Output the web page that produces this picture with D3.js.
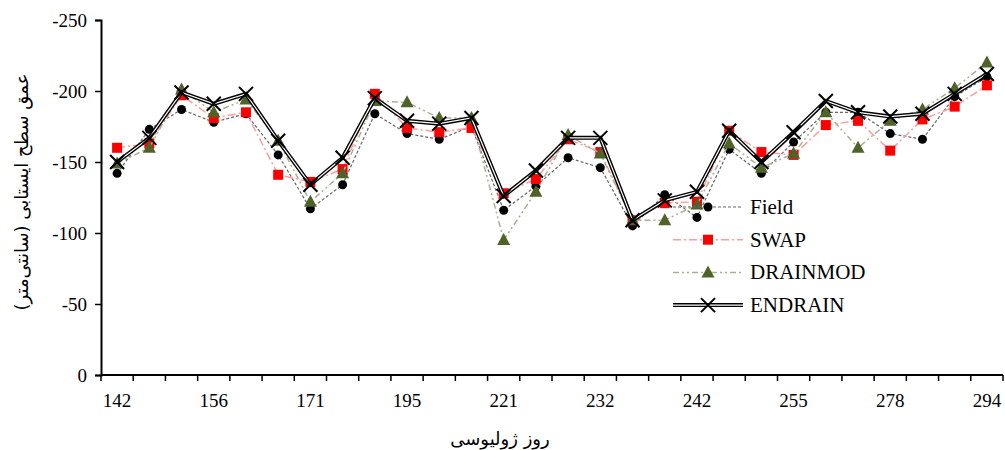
<!DOCTYPE html>
<html>
<head>
<meta charset="utf-8">
<script src="https://cdn.jsdelivr.net/npm/d3@7"></script>
<style>
  body { margin: 0; background: #fff; }
  text { font-family: "Liberation Serif", "Times New Roman", serif; }
  .fa { font-family: "DejaVu Sans", sans-serif; }
</style>
</head>
<body>
<script>
// 28 measurement dates, only every third one is labelled
var categories = d3.range(28);
var tickLabels = ["142", "156", "171", "195", "221", "232", "242", "255", "278", "294"];
var yTicks = [0, -50, -100, -150, -200, -250];

// water table depth (cm), negative = below surface
var field    = [-142, -173, -187, -178, -184, -155, -117, -134, -184, -170, -166, -175, -116, -133,
                -153, -146, -105, -127, -111, -159, -142, -164, -185, -185, -170, -166, -196, -210];
var swap     = [-160, -163, -197, -181, -185, -141, -136, -145, -198, -174, -171, -174, -128, -138,
                -166, -157, -109, -121, -122, -172, -157, -155, -176, -179, -158, -180, -189, -204];
var drainmod = [-149, -160, -201, -185, -194, -165, -122, -142, -193, -192, -181, -181, -95, -129,
                -169, -156, -109, -109, -120, -163, -146, -156, -185, -160, -179, -187, -202, -220];
var endrain  = [-150, -167, -199, -191, -198, -165, -134, -153, -195, -179, -177, -181, -126, -144,
                -167, -167, -109, -123, -129, -172, -150, -171, -193, -185, -182, -184, -198, -212];

var width = 1005, height = 450;
var plotLeft = 101, plotRight = 1003, plotTop = 20, plotBottom = 375;

var svg = d3.select("body").append("svg")
            .attr("width", width)
            .attr("height", height);

var x = d3.scaleBand().domain(categories).range([plotLeft, plotRight]).padding(0);
var y = d3.scaleLinear().domain([0, -250]).range([plotBottom, plotTop]);
var cx = function(d, i) { return x(i) + x.bandwidth() / 2; };

// y axis
var yAxis = d3.axisLeft(y).tickValues(yTicks).tickSize(6).tickPadding(8)
              .tickFormat(function(d) { return String(d); });
var gy = svg.append("g").attr("transform", "translate(" + plotLeft + ",0)").call(yAxis);
gy.select(".domain").attr("stroke", "#000").attr("stroke-width", 2);
gy.selectAll(".tick line").attr("stroke", "#000").attr("stroke-width", 1.5);
gy.selectAll(".tick text").attr("font-size", 19).attr("font-family", "Liberation Serif").attr("fill", "#000");

// x axis: tick marks on band boundaries, labels on every third point
var xAxisLine = svg.append("g");
xAxisLine.append("line")
  .attr("x1", plotLeft).attr("x2", plotRight)
  .attr("y1", plotBottom).attr("y2", plotBottom)
  .attr("stroke", "#000").attr("stroke-width", 2);
xAxisLine.selectAll("line.tk")
  .data(d3.range(categories.length + 1))
  .enter()
  .append("line")
  .attr("class", "tk")
  .attr("x1", function(d) { return plotLeft + d * x.bandwidth(); })
  .attr("x2", function(d) { return plotLeft + d * x.bandwidth(); })
  .attr("y1", plotBottom).attr("y2", plotBottom + 6)
  .attr("stroke", "#000").attr("stroke-width", 1.5);
xAxisLine.selectAll("text")
  .data(tickLabels)
  .enter()
  .append("text")
  .text(function(d) { return d; })
  .attr("x", function(d, i) { return cx(null, i * 3); })
  .attr("y", plotBottom + 32)
  .attr("text-anchor", "middle")
  .attr("font-size", 19);

// axis titles
svg.append("text")
   .attr("class", "fa")
   .attr("x", 500).attr("y", 445)
   .attr("text-anchor", "middle")
   .attr("font-size", 18)
   .attr("direction", "rtl")
   .text("روز ژولیوسی");
svg.append("text")
   .attr("class", "fa")
   .attr("transform", "translate(28,192) rotate(-90)")
   .attr("text-anchor", "middle")
   .attr("font-size", 18)
   .attr("direction", "rtl")
   .text("عمق سطح ایستابی (سانتی‌متر)");

var line = d3.line().x(cx).y(function(d) { return y(d); });

var series = [
  {name: "Field", values: field, color: "#666", width: 1.2, dash: "3,2", marker: "circle"},
  {name: "SWAP", values: swap, color: "#ff9c9c", width: 1.5, dash: "8,3,2,3", marker: "square"},
  {name: "DRAINMOD", values: drainmod, color: "#a9b096", width: 1.5, dash: "6,3,2,3,2,3", marker: "triangle"},
  {name: "ENDRAIN", values: endrain, color: "#000", width: 4, dash: null, marker: "cross"}
];

function drawMarker(g, type, px, py) {
  if (type === "circle") {
    g.append("circle").attr("cx", px).attr("cy", py).attr("r", 4.5).attr("fill", "#000");
  } else if (type === "square") {
    g.append("rect").attr("x", px - 5).attr("y", py - 5).attr("width", 10).attr("height", 10).attr("fill", "#ff0000");
  } else if (type === "triangle") {
    g.append("path")
     .attr("d", "M" + px + "," + (py - 7) + "L" + (px + 6.5) + "," + (py + 5) + "L" + (px - 6.5) + "," + (py + 5) + "Z")
     .attr("fill", "#4f6228");
  } else {
    g.append("path")
     .attr("d", "M" + (px - 7) + "," + (py - 7) + "L" + (px + 7) + "," + (py + 7) +
                "M" + (px + 7) + "," + (py - 7) + "L" + (px - 7) + "," + (py + 7))
     .attr("stroke", "#000").attr("stroke-width", 2).attr("fill", "none");
  }
}

series.forEach(function(s) {
  var g = svg.append("g");
  g.append("path")
   .datum(s.values)
   .attr("d", line)
   .attr("fill", "none")
   .attr("stroke", s.color)
   .attr("stroke-width", s.width)
   .attr("stroke-dasharray", s.dash);
  if (s.marker === "cross") {
    // double (compound) line: white core inside black
    g.append("path")
     .datum(s.values)
     .attr("d", line)
     .attr("fill", "none")
     .attr("stroke", "#fff")
     .attr("stroke-width", 1.2);
  }
  s.values.forEach(function(d, i) { drawMarker(g, s.marker, cx(d, i), y(d)); });
});

// legend
var legend = svg.append("g");
series.forEach(function(s, i) {
  var ly = 207 + i * 32.7;
  legend.append("line")
        .attr("x1", 673).attr("x2", 743).attr("y1", ly).attr("y2", ly)
        .attr("stroke", s.color).attr("stroke-width", s.width)
        .attr("stroke-dasharray", s.dash);
  if (s.marker === "cross") {
    legend.append("line")
          .attr("x1", 673).attr("x2", 743).attr("y1", ly).attr("y2", ly)
          .attr("stroke", "#fff").attr("stroke-width", 1.2);
  }
  drawMarker(legend, s.marker, 708, ly);
  legend.append("text")
        .attr("x", 750).attr("y", ly + 7)
        .attr("font-size", 21)
        .text(s.name);
});
</script>
</body>
</html>
